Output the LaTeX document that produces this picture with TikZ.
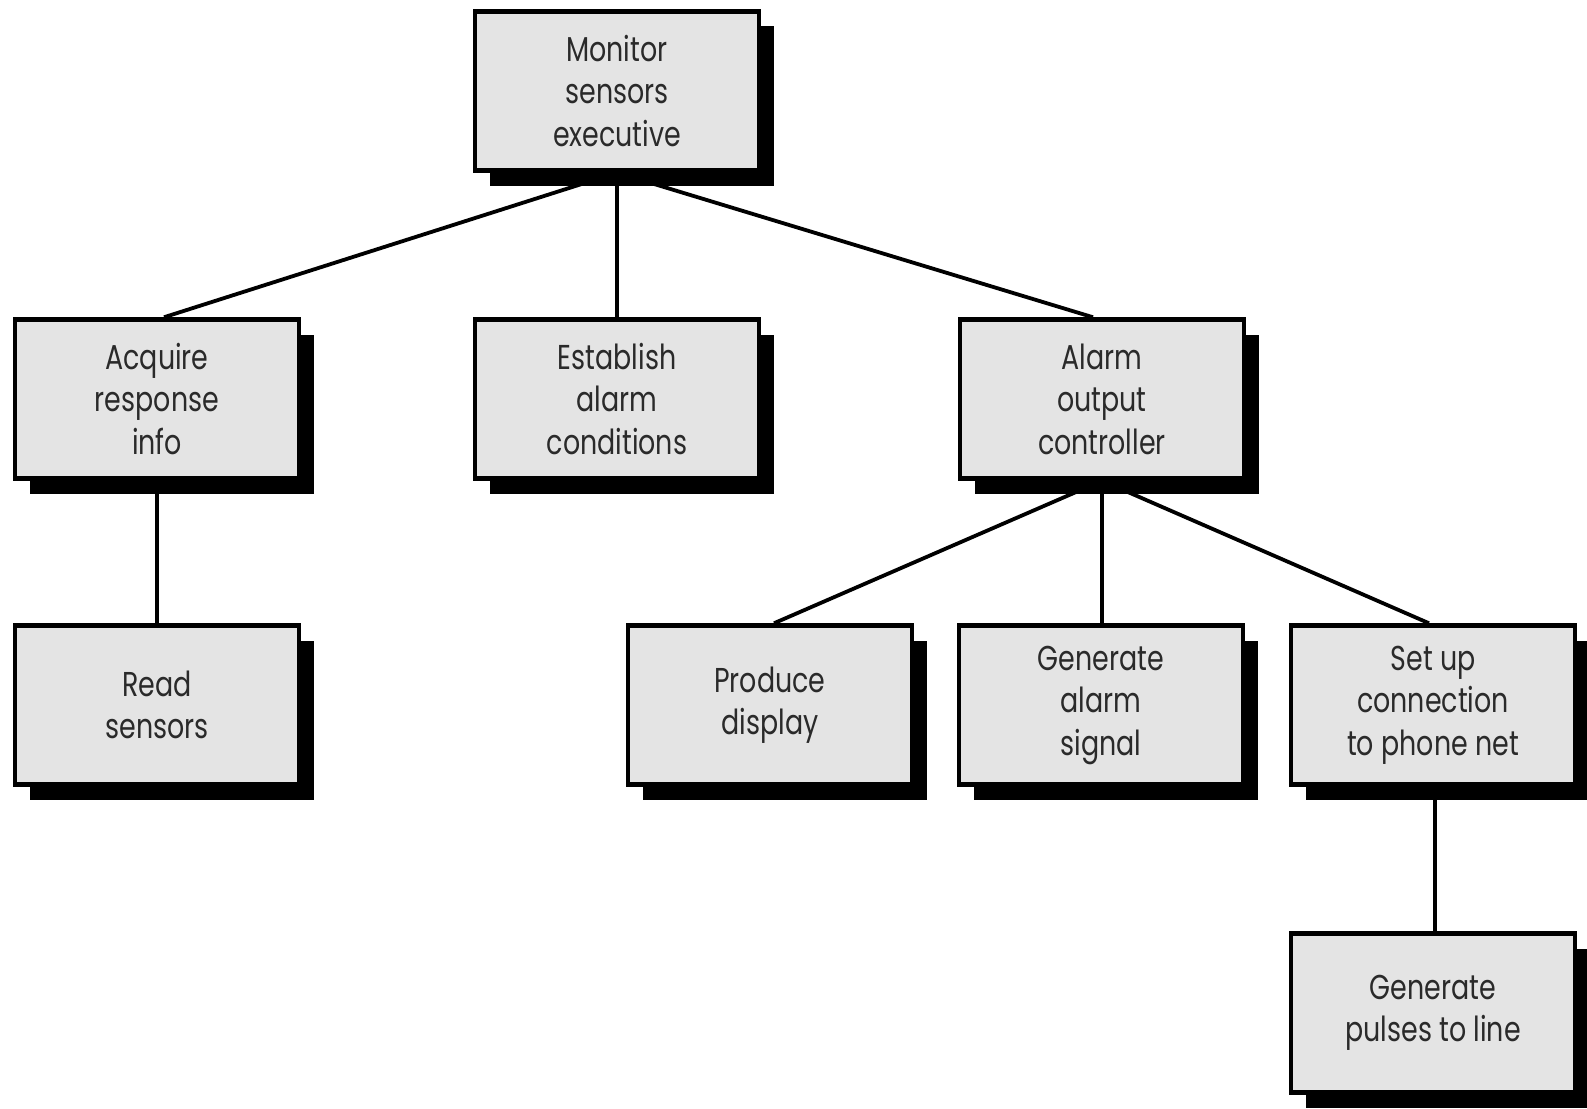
\documentclass[tikz,border=0pt]{standalone}
\usepackage{fontspec}
\setmainfont{Poppins}[FakeStretch=0.78]
\usetikzlibrary{shadows,backgrounds}
\definecolor{boxgray}{HTML}{E4E4E4}
\definecolor{textgray}{HTML}{2A2A2A}
\begin{document}
\begin{tikzpicture}[x=1pt,y=-1pt,
  box/.style={draw=black, line width=4.5pt, fill=boxgray,
    minimum width=284pt, minimum height=159pt, inner sep=0pt,
    align=center, text=textgray,
    font=\fontsize{34.5}{42.5}\selectfont,
    drop shadow={shadow xshift=15pt, shadow yshift=-15pt, fill=black, opacity=1}},
  link/.style={line width=3.8pt, draw=black}]
\useasboundingbox (0,0) rectangle (1587,1108);

\node[box] (top) at (617,91) {Monitor\\sensors\\executive};
\node[box] (acq) at (157,399) {Acquire\\response\\info};
\node[box] (est) at (617,399) {Establish\\alarm\\conditions};
\node[box] (alarm) at (1102,399) {Alarm\\output\\controller};
\node[box] (read) at (157,705) {Read\\sensors};
\node[box] (prod) at (770,705) {Produce\\display};
\node[box] (gen) at (1101,705) {Generate\\alarm\\signal};
\node[box] (setup) at (1433,705) {Set up\\connection\\to phone net};
\node[box] (pulse) at (1433,1013) {Generate\\pulses to line};

\begin{scope}[on background layer]
\fill[white] (0,0) rectangle (1587,1108);
\draw[link] (top.south) -- ([xshift=7pt]acq.north);
\draw[link] (top.south) -- (est.north);
\draw[link] (top.south) -- ([xshift=-9pt]alarm.north);
\draw[link] (acq.south) -- (read.north);
\draw[link] (alarm.south) -- ([xshift=4pt]prod.north);
\draw[link] (alarm.south) -- ([xshift=1pt]gen.north);
\draw[link] (alarm.south) -- ([xshift=-4pt]setup.north);
\draw[link] ([xshift=2pt]setup.south) -- ([xshift=2pt]pulse.north);
\end{scope}
\end{tikzpicture}
\end{document}
